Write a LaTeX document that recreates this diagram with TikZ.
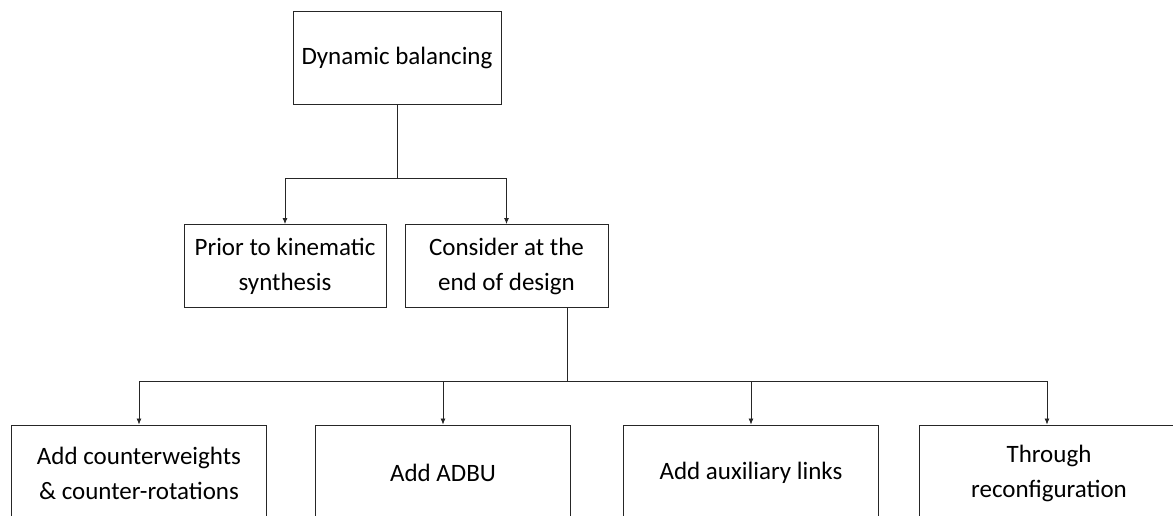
\documentclass[tikz,border=0pt]{standalone}
\usepackage{fontspec}
\setmainfont{Carlito}
\usepackage{tikz}
\usetikzlibrary{arrows.meta, positioning}

\tikzset{
  box/.style={draw=black!85, line width=0.9pt, align=center, inner sep=2pt,
    font=\fontsize{25}{35}\selectfont},
  wide/.style={box, minimum width=255pt, minimum height=96pt},
  link/.style={draw=black!85, line width=0.8pt}
}

\begin{document}
\begin{tikzpicture}[x=1pt,y=1pt,>={Latex[length=6pt,width=5pt]},on grid]
    \useasboundingbox (0,0) rectangle (1173,-516);
    \clip (0,0) rectangle (1173,-516);
    \node[box, minimum width=208pt, minimum height=93pt] (dyn) at (397,-57.5) {Dynamic balancing};
    \node[box, minimum width=202pt, minimum height=83pt] (prior) at (285,-266) {Prior to kinematic\\synthesis};
    \node[box, minimum width=203pt, minimum height=83pt] (cons) [right=221.5pt of prior] {Consider at the\\end of design};
    \node[wide] (cw) at (139,-473) {Add counterweights\\\& counter-rotations};
    \node[wide] (adbu) [right=304pt of cw] {Add ADBU};
    \node[wide] (aux) [right=308pt of adbu] {Add auxiliary links};
    \node[wide, minimum width=259pt] (thr) [right=296pt of aux, xshift=2pt] {Through\\reconfiguration};
    % first level
    \draw[link] (dyn.south) -- ++(0,-74) coordinate (split1);
    \draw[link,->] (split1) -| (prior.north);
    \draw[link,->] (split1) -| (cons.north);
    % second level
    \draw[link] ([xshift=60.5pt]cons.south) -- ++(0,-73.5) coordinate (split2);
    \draw[link,->] (split2) -| (cw.north);
    \draw[link,->] (split2) -| (adbu.north);
    \draw[link,->] (split2) -| (aux.north);
    \draw[link,->] (split2) -| ([xshift=-2pt]thr.north);
\end{tikzpicture}
\end{document}
